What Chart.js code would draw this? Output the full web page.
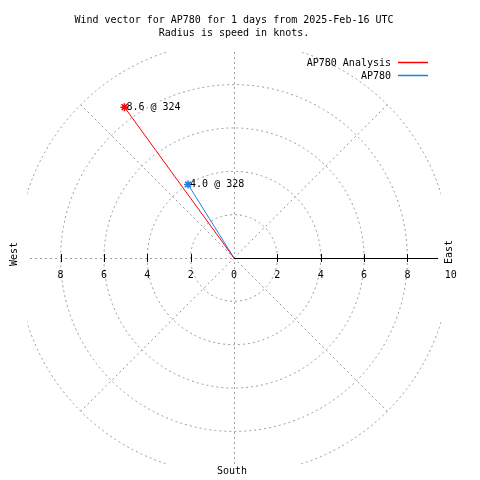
<!DOCTYPE html>
<html>
<head>
<meta charset="utf-8">
<script src="https://cdn.jsdelivr.net/npm/chart.js@4.4.1/dist/chart.umd.min.js"></script>
<style>
  html, body { margin: 0; padding: 0; background: #fff; }
  canvas { display: block; }
</style>
</head>
<body>
<canvas id="wind" width="480" height="480"></canvas>
<script>
// Wind vector polar plot: speed (knots) as radius, direction (deg) as bearing.
const SERIES    = ['AP780 Analysis', 'AP780'];
const SPEED     = [8.6, 4.0];
const DIRECTION = [324, 328];
const COLORS    = ['#ff0000', '#1e80e6'];

const RINGS       = [2, 4, 6, 8, 10];
const SPOKES      = [45, 135, 225, 315];
const TICKS       = [-8, -6, -4, -2, 0, 2, 4, 6, 8, 10];
const TICK_LABELS = ['8', '6', '4', '2', '0', '2', '4', '6', '8', '10'];

const FONT = "10px 'DejaVu Sans Mono', monospace";
const rad = d => d * Math.PI / 180;

const datasets = SERIES.map((name, i) => ({
  label: name,
  data: [
    { x: 0, y: 0 },
    { x: SPEED[i] * Math.sin(rad(DIRECTION[i])), y: SPEED[i] * Math.cos(rad(DIRECTION[i])) },
  ],
  showLine: true,
  borderColor: COLORS[i],
  backgroundColor: COLORS[i],
  borderWidth: 1,
  pointStyle: 'star',
  pointRadius: [0, 4],
  pointBorderWidth: 1.5,
  pointHoverRadius: 0,
}));

const polarGrid = {
  id: 'polarGrid',
  beforeDatasetsDraw(chart) {
    const { ctx, chartArea: a, scales: { x, y } } = chart;
    const cx = x.getPixelForValue(0), cy = y.getPixelForValue(0);
    const k = x.getPixelForValue(1) - cx;
    ctx.save();
    ctx.beginPath(); ctx.rect(a.left, a.top, a.width, a.height); ctx.clip();
    ctx.strokeStyle = '#999'; ctx.lineWidth = 1; ctx.setLineDash([2, 3]);
    RINGS.forEach(r => { ctx.beginPath(); ctx.arc(cx, cy, r * k, 0, Math.PI * 2); ctx.stroke(); });
    const rmax = RINGS[RINGS.length - 1] * k;
    SPOKES.forEach(d => {
      ctx.beginPath(); ctx.moveTo(cx, cy);
      ctx.lineTo(cx + rmax * Math.sin(rad(d)), cy - rmax * Math.cos(rad(d)));
      ctx.stroke();
    });
    ctx.strokeStyle = '#a0a0a0';
    ctx.beginPath();
    ctx.moveTo(Math.round(cx) + 0.5, a.top); ctx.lineTo(Math.round(cx) + 0.5, a.bottom);
    ctx.moveTo(a.left - 2, Math.round(cy) + 0.5); ctx.lineTo(cx, Math.round(cy) + 0.5);
    ctx.stroke();
    ctx.restore();

    // solid east half of the zero axis + tick marks
    ctx.save();
    ctx.strokeStyle = '#000'; ctx.lineWidth = 1;
    ctx.beginPath();
    ctx.moveTo(cx, Math.round(cy) + 0.5); ctx.lineTo(a.right - 3, Math.round(cy) + 0.5);
    TICKS.filter(t => t !== 0 && Math.abs(t) < 10).forEach(t => {
      const px = Math.round(x.getPixelForValue(t)) + 0.5;
      ctx.moveTo(px, cy - 4); ctx.lineTo(px, cy + 4);
    });
    ctx.stroke();
    ctx.restore();
  },
  afterDraw(chart) {
    const { ctx, scales: { x, y } } = chart;
    const cx = x.getPixelForValue(0), cy = y.getPixelForValue(0);
    ctx.save();
    ctx.font = FONT; ctx.fillStyle = '#000';

    // tick labels
    ctx.textAlign = 'center'; ctx.textBaseline = 'middle';
    TICKS.forEach((t, i) => ctx.fillText(TICK_LABELS[i], x.getPixelForValue(t), cy + 17));

    // compass labels
    ctx.fillText('South', cx - 2, 471);
    [['West', 14, cy - 4], ['East', 449, cy - 6]].forEach(([s, px, py]) => {
      ctx.save(); ctx.translate(px, py); ctx.rotate(-Math.PI / 2);
      ctx.fillText(s, 0, 0); ctx.restore();
    });

    // vector end labels
    ctx.textAlign = 'left';
    SERIES.forEach((_, i) => {
      const p = chart.getDatasetMeta(i).data[1];
      ctx.fillText(SPEED[i].toFixed(1) + ' @ ' + DIRECTION[i], p.x + 2, p.y);
    });

    // legend
    ctx.textAlign = 'right';
    SERIES.forEach((s, i) => {
      const ly = 63 + i * 13;
      ctx.fillText(s, 391, ly);
      ctx.strokeStyle = COLORS[i]; ctx.lineWidth = 1.5;
      ctx.beginPath(); ctx.moveTo(398, ly - 0.5); ctx.lineTo(428, ly - 0.5); ctx.stroke();
    });
    ctx.restore();
  },
};

new Chart(document.getElementById('wind'), {
  type: 'scatter',
  data: { datasets },
  plugins: [polarGrid],
  options: {
    responsive: false,
    animation: false,
    layout: { padding: { left: 27, right: 39, top: 0, bottom: 16 } },
    scales: {
      x: { type: 'linear', display: false, min: -9.55, max: 9.55 },
      y: { type: 'linear', display: false, min: -9.5, max: 9.5 },
    },
    plugins: {
      legend: { display: false },
      tooltip: { enabled: false },
      title: {
        display: true,
        text: 'Wind vector for AP780 for 1 days from 2025-Feb-16 UTC',
        color: '#000',
        font: { family: "'DejaVu Sans Mono', monospace", size: 10, weight: 'normal', lineHeight: 1.3 },
        padding: { top: 14, bottom: 0 },
      },
      subtitle: {
        display: true,
        text: 'Radius is speed in knots.',
        color: '#000',
        font: { family: "'DejaVu Sans Mono', monospace", size: 10, weight: 'normal', lineHeight: 1.3 },
        padding: { top: 0, bottom: 12 },
      },
    },
  },
});
</script>
</body>
</html>
